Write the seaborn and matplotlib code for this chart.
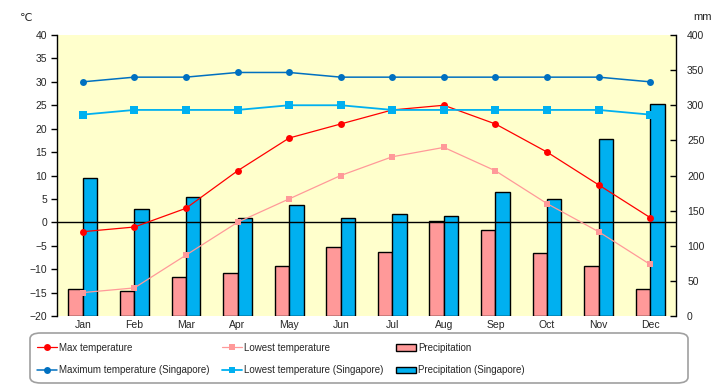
import numpy as np
import pandas as pd
import matplotlib
matplotlib.use("Agg")
import matplotlib.pyplot as plt
import seaborn as sns
from matplotlib.lines import Line2D
from matplotlib.patches import Patch, FancyBboxPatch

# -----------------------------------
# Data
# -----------------------------------
months = ["Jan", "Feb", "Mar", "Apr", "May", "Jun",
          "Jul", "Aug", "Sep", "Oct", "Nov", "Dec"]
max_temp = [-2, -1, 3, 11, 18, 21, 24, 25, 21, 15, 8, 1]
low_temp = [-15, -14, -7, 0, 5, 10, 14, 16, 11, 4, -2, -9]
precip = [39, 36, 55, 61, 71, 98, 91, 135, 123, 89, 71, 39]
sg_max_temp = [30, 31, 31, 32, 32, 31, 31, 31, 31, 31, 31, 30]
sg_low_temp = [23, 24, 24, 24, 25, 25, 24, 24, 24, 24, 24, 23]
sg_precip = [197, 153, 170, 140, 158, 139, 145, 142, 176, 166, 252, 302]

temp_ticks = list(range(-20, 41, 5))
precip_ticks = list(range(0, 401, 50))

# -----------------------------------
# Style
# -----------------------------------
sns.set_theme(style="ticks")
plt.rcParams["font.family"] = ["Liberation Sans", "DejaVu Sans", "Noto Sans CJK JP"]

RED = "#ff0000"
PINK = "#ff9999"
SG_BLUE = "#0070c0"
SG_CYAN = "#00b0f0"
BG = "#ffffcc"

fig, ax = plt.subplots(figsize=(7.2, 3.85), dpi=100)
fig.subplots_adjust(left=57 / 720, right=676 / 720, top=1 - 35 / 385, bottom=1 - 316 / 385)
ax2 = ax.twinx()

# bars on the precipitation axis (drawn underneath)
df_prec = pd.DataFrame({
    "month": months * 2,
    "mm": precip + sg_precip,
    "series": ["Precipitation"] * 12 + ["Precipitation (Singapore)"] * 12,
})
sns.barplot(data=df_prec, x="month", y="mm", hue="series",
            palette=[PINK, SG_CYAN], edgecolor="black", linewidth=1,
            width=0.56, saturation=1, legend=False, ax=ax2)

ax.set_zorder(ax2.get_zorder() + 1)
ax.patch.set_visible(False)
ax2.patch.set_visible(True)
ax2.patch.set_facecolor(BG)

# lines on the temperature axis
x = np.arange(len(months))
sns.lineplot(x=x, y=max_temp, ax=ax, color=RED, marker="o", markersize=5,
             markeredgewidth=0, linewidth=0.9)
sns.lineplot(x=x, y=low_temp, ax=ax, color=PINK, marker="s", markersize=5,
             markeredgewidth=0, linewidth=0.9)
sns.lineplot(x=x, y=sg_max_temp, ax=ax, color=SG_BLUE, marker="o", markersize=5,
             markeredgewidth=0, linewidth=1.1)
sns.lineplot(x=x, y=sg_low_temp, ax=ax, color=SG_CYAN, marker="s", markersize=5.5,
             markeredgewidth=0, linewidth=1.3)
ax.axhline(0, color="black", linewidth=1, zorder=1)

# -----------------------------------
# Axes
# -----------------------------------
ax.set_ylim(-20, 40)
ax2.set_ylim(0, 400)
ax.set_xlim(-0.5, 11.5)
ax.set_yticks(temp_ticks)
ax2.set_yticks(precip_ticks)
ax.set_xticks(x)
ax.set_xticklabels(months)
ax.set_xlabel("")
ax.set_ylabel("")
ax2.set_ylabel("")

for a in (ax, ax2):
    a.spines["top"].set_visible(False)
    a.spines["bottom"].set_visible(False)
    a.grid(False)
ax.spines["left"].set_color("black")
ax.spines["left"].set_linewidth(1)
ax2.spines["right"].set_color("black")
ax2.spines["right"].set_linewidth(1)
ax.spines["right"].set_visible(False)
ax2.spines["left"].set_visible(False)

ax.tick_params(axis="y", direction="out", length=4, width=1, color="black",
               labelsize=7.5, pad=3)
ax.tick_params(axis="x", length=0, labelsize=7.5, pad=3)
ax2.tick_params(axis="y", direction="in", length=4, width=1, color="black",
                labelsize=7.5, pad=8)

fig.text(26 / 720, 1 - 18 / 385, "℃", fontsize=8, ha="center", va="center")
fig.text(703 / 720, 1 - 17 / 385, "mm", fontsize=8, ha="center", va="center")

# -----------------------------------
# Legend
# -----------------------------------
box = FancyBboxPatch((30 / 720, 2 / 385), 658 / 720, 50 / 385,
                     boxstyle="round,pad=0,rounding_size=0.015",
                     transform=fig.transFigure, facecolor="white",
                     edgecolor="#a0a0a0", linewidth=1.2)
fig.patches.append(box)

handles = [
    Line2D([], [], color=RED, marker="o", markersize=5, markeredgewidth=0, linewidth=0.9),
    Line2D([], [], color=SG_BLUE, marker="o", markersize=5, markeredgewidth=0, linewidth=1.1),
    Line2D([], [], color=PINK, marker="s", markersize=5, markeredgewidth=0, linewidth=0.9),
    Line2D([], [], color=SG_CYAN, marker="s", markersize=5, markeredgewidth=0, linewidth=1.3),
    Patch(facecolor=PINK, edgecolor="black", linewidth=1),
    Patch(facecolor=SG_CYAN, edgecolor="black", linewidth=1),
]
labels = ["Max temperature", "Maximum temperature (Singapore)",
          "Lowest temperature", "Lowest temperature (Singapore)",
          "Precipitation", "Precipitation (Singapore)"]
fig.legend(handles, labels, ncol=3, loc="center left",
           bbox_to_anchor=(37 / 720, 1 - 359 / 385), frameon=False,
           fontsize=7, handlelength=2.1, handletextpad=0.15,
           columnspacing=1.3, labelspacing=1.3, borderaxespad=0,
           borderpad=0)

fig.savefig("out.png", dpi=100)
